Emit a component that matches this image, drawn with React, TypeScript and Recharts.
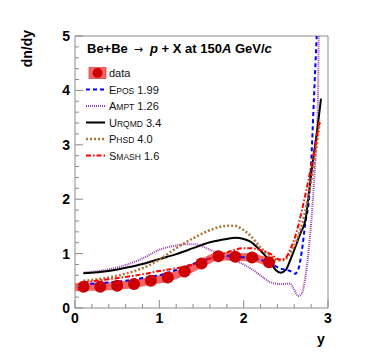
import React from 'react';
import {
  ComposedChart,
  Line,
  Scatter,
  XAxis,
  YAxis,
  ReferenceArea,
} from 'recharts';

// measured points (NA61/SHINE-like), rapidity y vs dn/dy
const pointX = [0.1, 0.3, 0.5, 0.7, 0.9, 1.1, 1.3, 1.5, 1.7, 1.9, 2.1, 2.3];
const pointY = [0.39, 0.39, 0.41, 0.44, 0.5, 0.56, 0.67, 0.82, 0.95, 0.94, 0.93, 0.84];

// systematic band follows the points
const bandX = [0.0, 0.1, 0.3, 0.5, 0.7, 0.9, 1.1, 1.3, 1.5, 1.7, 1.9, 2.1, 2.3, 2.37];
const bandY = [0.38, 0.39, 0.39, 0.41, 0.44, 0.5, 0.56, 0.67, 0.82, 0.95, 0.94, 0.93, 0.84, 0.81];

// model curves
const eposX = [0.1, 0.4, 0.6, 0.8, 1.05, 1.2, 1.4, 1.6, 1.8, 1.96, 2.08, 2.19, 2.31, 2.43, 2.55, 2.61, 2.65, 2.69, 2.73, 2.78, 2.8, 2.834, 2.866];
const eposY = [0.44, 0.47, 0.5, 0.55, 0.62, 0.7, 0.81, 0.91, 0.96, 0.94, 0.91, 0.89, 0.82, 0.73, 0.68, 0.63, 0.72, 1.05, 1.55, 2.1, 2.66, 3.88, 5.0];

const amptX = [0.1, 0.4, 0.6, 0.8, 1.0, 1.2, 1.3, 1.42, 1.6, 1.8, 1.96, 2.08, 2.19, 2.31, 2.43, 2.55, 2.59, 2.65, 2.69, 2.73, 2.77, 2.8, 2.83, 2.86, 2.88, 2.89];
const amptY = [0.65, 0.71, 0.79, 0.91, 1.07, 1.15, 1.17, 1.17, 1.07, 0.92, 0.83, 0.73, 0.61, 0.48, 0.44, 0.45, 0.36, 0.22, 0.27, 0.55, 1.05, 1.55, 2.2, 3.0, 3.8, 5.0];

const urqmdX = [0.1, 0.4, 0.6, 0.8, 1.0, 1.2, 1.4, 1.6, 1.8, 1.9, 2.0, 2.08, 2.19, 2.31, 2.38, 2.44, 2.5, 2.56, 2.63, 2.68, 2.73, 2.78, 2.83, 2.875, 2.917];
const urqmdY = [0.64, 0.68, 0.74, 0.81, 0.9, 0.99, 1.1, 1.21, 1.27, 1.29, 1.27, 1.22, 1.07, 0.86, 0.7, 0.65, 0.7, 0.91, 1.19, 1.4, 1.6, 2.2, 2.8, 3.3, 3.85];

const phsdX = [0.1, 0.4, 0.6, 0.8, 1.0, 1.2, 1.4, 1.6, 1.8, 1.9, 1.96, 2.08, 2.19, 2.31, 2.41, 2.47, 2.55, 2.63, 2.69, 2.76, 2.83, 2.905];
const phsdY = [0.5, 0.56, 0.63, 0.73, 0.89, 1.1, 1.28, 1.43, 1.51, 1.51, 1.47, 1.33, 1.13, 0.97, 0.88, 0.88, 1.0, 1.25, 1.53, 2.0, 2.6, 3.46];

const smashX = [0.1, 0.4, 0.6, 0.8, 1.0, 1.2, 1.4, 1.6, 1.8, 2.0, 2.08, 2.19, 2.31, 2.43, 2.49, 2.55, 2.61, 2.65, 2.72, 2.8, 2.9];
const smashY = [0.47, 0.53, 0.57, 0.62, 0.68, 0.73, 0.8, 0.91, 1.02, 1.1, 1.1, 1.07, 1.0, 0.89, 0.91, 1.07, 1.31, 1.53, 2.0, 2.6, 3.42];

const xTicks = [0, 0.2, 0.4, 0.6, 0.8, 1, 1.2, 1.4, 1.6, 1.8, 2, 2.2, 2.4, 2.6, 2.8, 3];
const yTicks = [0, 0.2, 0.4, 0.6, 0.8, 1, 1.2, 1.4, 1.6, 1.8, 2, 2.2, 2.4, 2.6, 2.8, 3, 3.2, 3.4, 3.6, 3.8, 4, 4.2, 4.4, 4.6, 4.8, 5];

const FONT = '"Liberation Sans", Arial, Helvetica, sans-serif';
const FRAME = '#8c8c8c';

const zip = (xs: number[], ys: number[]) => xs.map((x, i) => ({ x, y: ys[i] }));

const models = [
  { key: 'epos', big: 'E', small: 'POS', ver: ' 1.99', data: zip(eposX, eposY), stroke: '#0000ff', dash: '4 3', width: 2 },
  { key: 'ampt', big: 'A', small: 'MPT', ver: ' 1.26', data: zip(amptX, amptY), stroke: '#9a3fb5', dash: '1 1', width: 2 },
  { key: 'urqmd', big: 'U', small: 'RQMD', ver: ' 3.4', data: zip(urqmdX, urqmdY), stroke: '#000000', dash: undefined, width: 2 },
  { key: 'phsd', big: 'P', small: 'HSD', ver: ' 4.0', data: zip(phsdX, phsdY), stroke: '#b07432', dash: '2 2', width: 2.5 },
  { key: 'smash', big: 'S', small: 'MASH', ver: ' 1.6', data: zip(smashX, smashY), stroke: '#ff0000', dash: '5 2 1.5 2', width: 2 },
];

const isMajor = (v: number) => Math.abs(v - Math.round(v)) < 1e-6;

function XTick(props: any) {
  const { x, y, payload } = props;
  const major = isMajor(payload.value);
  return (
    <g>
      <line x1={x} x2={x} y1={y} y2={y - (major ? 8 : 4)} stroke={FRAME} />
      {major && (
        <text x={x} y={y + 15} textAnchor="middle" fontFamily={FONT} fontWeight="bold" fontSize={14} fill="#000">
          {Math.round(payload.value)}
        </text>
      )}
    </g>
  );
}

function YTick(props: any) {
  const { x, y, payload } = props;
  const major = isMajor(payload.value);
  return (
    <g>
      <line x1={x} x2={x + (major ? 8 : 4)} y1={y} y2={y} stroke={FRAME} />
      {major && (
        <text x={x - 5} y={y + 5} textAnchor="end" fontFamily={FONT} fontWeight="bold" fontSize={14} fill="#000">
          {Math.round(payload.value)}
        </text>
      )}
    </g>
  );
}

const dotShape = (p: any) => <circle cx={p.cx} cy={p.cy} r={6} fill="#cc0000" />;

function Overlay() {
  const rowY = [73, 89.5, 106, 122.5, 139, 155.5];
  return (
    <svg width={374} height={359} style={{ position: 'absolute', left: 0, top: 0, pointerEvents: 'none' }}>
      <text x={87} y={53} fontFamily={FONT} fontWeight="bold" fontSize={13} fill="#000">
        Be+Be
        <tspan dx={6} fontFamily='"DejaVu Sans", sans-serif' fontWeight="normal" fontSize={11}>{'\u2192'}</tspan>
        <tspan dx={7} fontStyle="italic">p</tspan> + X at 150<tspan fontStyle="italic">A</tspan> GeV/<tspan fontStyle="italic">c</tspan>
      </text>
      <rect x={89} y={rowY[0] - 5.5} width={17} height={11} fill="#f46464" stroke="#e04848" strokeWidth={0.8} />
      <circle cx={97.5} cy={rowY[0]} r={5} fill="#cc0000" />
      <text x={109} y={rowY[0] + 4} fontFamily={FONT} fontSize={11} fill="#111">data</text>
      {models.map((m, i) => (
        <g key={m.key}>
          <line x1={86} x2={105} y1={rowY[i + 1]} y2={rowY[i + 1]} stroke={m.stroke} strokeWidth={m.width} strokeDasharray={m.dash} />
          <text x={109} y={rowY[i + 1] + 4} fontFamily={FONT} fontSize={11} fill="#111">
            {m.big}<tspan fontSize={8.5}>{m.small}</tspan>{m.ver}
          </text>
        </g>
      ))}
      <text transform="translate(32,30) rotate(-90)" textAnchor="end" fontFamily={FONT} fontWeight="bold" fontSize={14} fill="#000">
        dn/dy
      </text>
      <text x={321} y={344} textAnchor="middle" fontFamily={FONT} fontWeight="bold" fontSize={14} fill="#000">y</text>
    </svg>
  );
}

export default function App() {
  return (
    <div style={{ position: 'absolute', left: 0, top: 0, width: 374, height: 359, background: '#fff' }}>
      <ComposedChart width={374} height={359} margin={{ top: 36, right: 46, bottom: 21, left: 35 }}>
        <XAxis
          type="number"
          dataKey="x"
          domain={[0, 3]}
          ticks={xTicks}
          interval={0}
          tickSize={0}
          tickMargin={0}
          axisLine={false}
          tickLine={false}
          height={30}
          allowDataOverflow
          tick={(p: any) => <XTick {...p} />}
        />
        <YAxis
          type="number"
          domain={[0, 5]}
          ticks={yTicks}
          interval={0}
          tickSize={0}
          tickMargin={0}
          axisLine={false}
          tickLine={false}
          width={40}
          allowDataOverflow
          tick={(p: any) => <YTick {...p} />}
        />
        <ReferenceArea x1={0} x2={3} y1={0} y2={5} fill="none" stroke={FRAME} strokeWidth={1} />
        <Line
          data={zip(bandX, bandY)}
          dataKey="y"
          type="monotone"
          stroke="#f46464"
          strokeWidth={8}
          dot={false}
          isAnimationActive={false}
        />
        <Scatter data={zip(pointX, pointY)} dataKey="y" shape={dotShape} isAnimationActive={false} />
        {models.map((m) => (
          <Line
            key={m.key}
            data={m.data}
            dataKey="y"
            type="monotone"
            stroke={m.stroke}
            strokeWidth={m.width}
            strokeDasharray={m.dash}
            dot={false}
            isAnimationActive={false}
          />
        ))}
      </ComposedChart>
      <Overlay />
    </div>
  );
}
